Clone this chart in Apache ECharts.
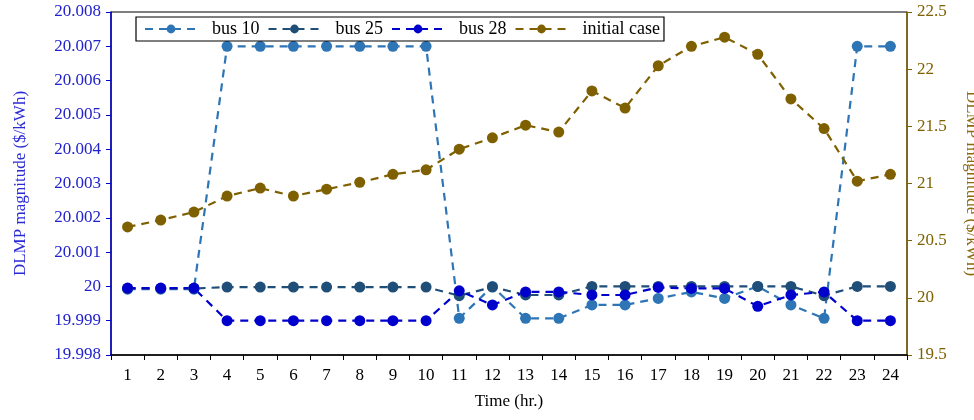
<!DOCTYPE html>
<html>
<head>
<meta charset="utf-8">
<script src="https://cdn.jsdelivr.net/npm/echarts@6/dist/echarts.min.js"></script>
<style>
html,body{margin:0;padding:0;background:#fff;}
#chart{width:974px;height:420px;}
</style>
</head>
<body>
<div id="chart"></div>
<script>
var hours = ['1','2','3','4','5','6','7','8','9','10','11','12','13','14','15','16','17','18','19','20','21','22','23','24'];
var bus10 = [19.99992,19.99992,19.99992,20.007,20.007,20.007,20.007,20.007,20.007,20.007,19.99907,20.0,19.99907,19.99907,19.99946,19.99946,19.99965,19.99984,19.99965,20.0,19.99946,19.99907,20.007,20.007];
var bus25 = [19.99994,19.99994,19.99994,19.99998,19.99998,19.99998,19.99998,19.99998,19.99998,19.99998,19.99973,19.99998,19.99975,19.99975,20.0,20.0,20.0,20.0,20.0,20.0,20.0,19.99973,20.0,20.0];
var bus28 = [19.99995,19.99995,19.99995,19.999,19.999,19.999,19.999,19.999,19.999,19.999,19.99987,19.99946,19.99984,19.99984,19.99975,19.99975,19.99997,19.99994,19.99994,19.99942,19.99975,19.99984,19.999,19.999];
var initialCase = [20.62,20.68,20.75,20.89,20.96,20.89,20.95,21.01,21.08,21.12,21.30,21.40,21.51,21.45,21.81,21.66,22.03,22.20,22.28,22.13,21.74,21.48,21.02,21.08];
var seriesNames = ['bus 10','bus 25','bus 28','initial case'];

var font = '"Liberation Serif", "DejaVu Serif", serif';
var chart = echarts.init(document.getElementById('chart'), null, {renderer:'canvas'});

function mk(name, data, color, yIdx){
  return {
    name: name, type: 'line', data: data, yAxisIndex: yIdx,
    symbol: 'circle', symbolSize: 11,
    itemStyle: {color: color},
    lineStyle: {color: color, width: 2.2, type: [8,6]},
    emphasis: {disabled: true},
    animation: false
  };
}

chart.setOption({
  animation: false,
  backgroundColor: '#fff',
  grid: {left: 111, right: 67, top: 12, bottom: 65, show: true, borderColor: '#000', borderWidth: 1,
         containLabel: false, outerBoundsMode: 'none'},
  legend: {
    left: 136, top: 17,
    backgroundColor: '#fff', borderColor: '#000', borderWidth: 1.2, borderRadius: 0,
    padding: [3, 4, 3, 8],
    itemWidth: 52, itemHeight: 11, itemGap: 8,
    textStyle: {fontFamily: font, fontSize: 18, color: '#000', padding: [0, 0, 0, 10]},
    data: seriesNames
  },
  xAxis: {
    type: 'category', data: hours, boundaryGap: true,
    name: 'Time (hr.)', nameLocation: 'middle', nameGap: 38,
    nameTextStyle: {fontFamily: font, fontSize: 17, color: '#000'},
    axisLine: {lineStyle: {color: '#000', width: 1.5}},
    axisTick: {show: true, alignWithLabel: false, length: 5, lineStyle: {color: '#000'}},
    axisLabel: {fontFamily: font, fontSize: 17, color: '#000', margin: 12},
    splitLine: {show: false}
  },
  yAxis: [{
    type: 'value', min: 19.998, max: 20.008, interval: 0.001, position: 'left',
    name: 'DLMP magnitude ($/kWh)', nameLocation: 'middle', nameGap: 82, nameRotate: 90,
    nameTextStyle: {fontFamily: font, fontSize: 17, color: '#2B2BD6'},
    axisLine: {show: true, lineStyle: {color: '#0000CC', width: 1.5}},
    axisTick: {show: true, length: 5, lineStyle: {color: '#0000CC'}},
    axisLabel: {fontFamily: font, fontSize: 17, color: '#2222CC', margin: 10,
      formatter: function(v){ return String(parseFloat(v.toFixed(3))); }},
    splitLine: {show: false}
  },{
    type: 'value', min: 19.5, max: 22.5, interval: 0.5, position: 'right',
    name: 'DLMP magnitude ($/kWh)', nameLocation: 'middle', nameGap: 56, nameRotate: -90,
    nameTextStyle: {fontFamily: font, fontSize: 17, color: '#8B6A10'},
    axisLine: {show: true, lineStyle: {color: '#7F6000', width: 1.5}},
    axisTick: {show: true, length: 5, lineStyle: {color: '#7F6000'}},
    axisLabel: {fontFamily: font, fontSize: 17, color: '#7F6000', margin: 10,
      formatter: function(v){ return String(parseFloat(v.toFixed(1))); }},
    splitLine: {show: false}
  }],
  series: [
    mk(seriesNames[0], bus10, '#2E75B6', 0),
    mk(seriesNames[1], bus25, '#1F4E79', 0),
    mk(seriesNames[2], bus28, '#0000CC', 0),
    mk(seriesNames[3], initialCase, '#7F6000', 1)
  ]
});
</script>
</body>
</html>
